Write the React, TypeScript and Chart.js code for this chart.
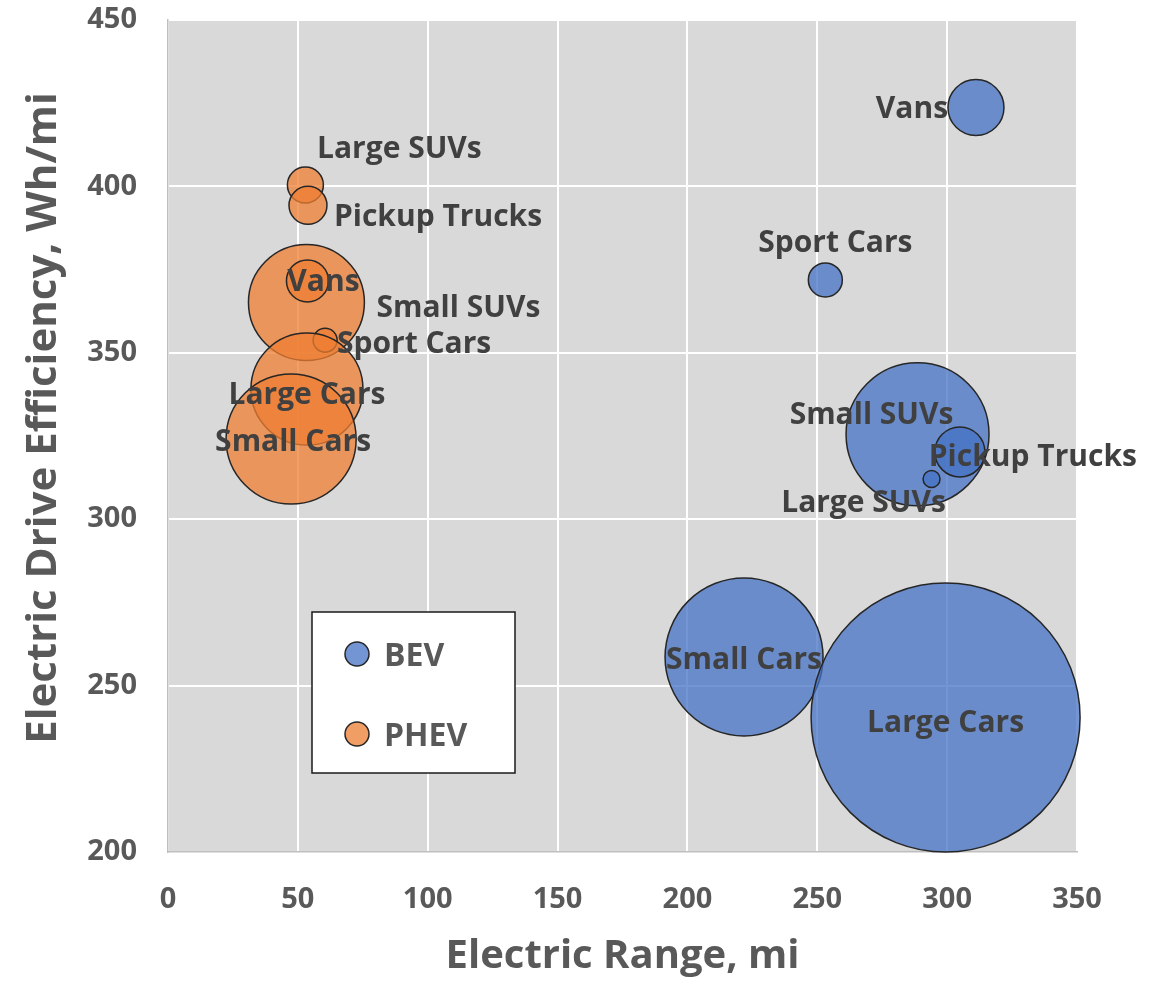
import React, { useEffect, useRef } from "react";
import { Chart, registerables } from "chart.js";

Chart.register(...registerables);

// ---- Data ----
const bevCategories = ["Vans", "Sport Cars", "Small SUVs", "Pickup Trucks", "Large SUVs", "Small Cars", "Large Cars"];
const bevRange = [311.1, 253.1, 288.6, 304.9, 294.0, 221.8, 299.4];
const bevEfficiency = [423.7, 371.9, 325.5, 320.2, 312.1, 258.6, 240.4];
const bevSize = [7.84, 2.89, 51.1, 6.25, 0.72, 62.4, 180.9];

const phevCategories = ["Large SUVs", "Pickup Trucks", "Small SUVs", "Vans", "Sport Cars", "Large Cars", "Small Cars"];
const phevRange = [52.9, 53.9, 53.3, 53.7, 60.5, 53.5, 47.4];
const phevEfficiency = [400.4, 394.3, 365.1, 371.6, 353.8, 339.1, 324.1];
const phevSize = [3.24, 3.61, 33.6, 4.41, 1.44, 31.4, 42.3];

const seriesNames = ["BEV", "PHEV"];
const xTitle = "Electric Range, mi";
const yTitle = "Electric Drive Efficiency, Wh/mi";

// ---- Layout / style (pixel offsets of the data labels from their bubble centres) ----
const bevLabelOffsets = [[-64, -1], [10, -39], [-46, -21], [73, 3], [-68, 22], [0, 1], [0, 3]];
const phevLabelOffsets = [[94, -38], [130, 10], [152, 3], [16, -1], [89, 2], [0, 4], [2, 1]];

const FONT = "'Open Sans', 'DejaVu Sans', sans-serif";
const bubbleScale = 10; // radius = bubbleScale * sqrt(size)

const bgPlugin = {
  id: "plotBg",
  beforeDraw(chart: any) {
    const { ctx, chartArea } = chart;
    ctx.save();
    ctx.fillStyle = "#d9d9d9";
    ctx.fillRect(chartArea.left, chartArea.top, chartArea.right - chartArea.left, chartArea.bottom - chartArea.top);
    ctx.restore();
  },
};

const yTitlePlugin = {
  id: "yTitle",
  afterDraw(chart: any) {
    const { ctx, chartArea } = chart;
    ctx.save();
    ctx.translate(44, chartArea.top + 398);
    ctx.rotate(-Math.PI / 2);
    ctx.font = `bold 42px ${FONT}`;
    ctx.fillStyle = "#595959";
    ctx.textAlign = "center";
    ctx.textBaseline = "middle";
    ctx.fillText(yTitle, 0, 0);
    ctx.restore();
  },
};

const labelPlugin = {
  id: "bubbleLabels",
  afterDatasetsDraw(chart: any) {
    const ctx = chart.ctx;
    ctx.save();
    ctx.font = `bold 30px ${FONT}`;
    ctx.fillStyle = "#404040";
    ctx.textAlign = "center";
    ctx.textBaseline = "alphabetic";
    chart.data.datasets.forEach((_ds: any, di: number) => {
      const meta = chart.getDatasetMeta(di);
      const names = di === 0 ? bevCategories : phevCategories;
      const offs = di === 0 ? bevLabelOffsets : phevLabelOffsets;
      meta.data.forEach((el: any, i: number) => {
        ctx.fillText(names[i], el.x + offs[i][0], el.y + offs[i][1] + 11);
      });
    });
    ctx.restore();
  },
};

const legendPlugin = {
  id: "boxLegend",
  afterDraw(chart: any) {
    const { ctx, chartArea } = chart;
    const left = chartArea.left + 144;
    const top = chartArea.top + 592;
    const w = 203;
    const h = 161;
    ctx.save();
    ctx.fillStyle = "#ffffff";
    ctx.fillRect(left, top, w, h);
    ctx.strokeStyle = "#1a1a1a";
    ctx.lineWidth = 1.5;
    ctx.strokeRect(left, top, w, h);
    const fills = ["rgb(115,149,211)", "rgb(241,158,101)"];
    seriesNames.forEach((name, i) => {
      const cy = top + 42 + i * 80;
      const cx = left + 45;
      ctx.beginPath();
      ctx.arc(cx, cy, 12, 0, Math.PI * 2);
      ctx.fillStyle = fills[i];
      ctx.fill();
      ctx.lineWidth = 1.5;
      ctx.strokeStyle = "#262626";
      ctx.stroke();
      ctx.font = `bold 32px ${FONT}`;
      ctx.fillStyle = "#595959";
      ctx.textAlign = "left";
      ctx.textBaseline = "alphabetic";
      ctx.fillText(name, left + 72, cy + 12);
    });
    ctx.restore();
  },
};

export default function App() {
  const canvasRef = useRef<HTMLCanvasElement | null>(null);

  useEffect(() => {
    if (!canvasRef.current) return;
    const toPoints = (xs: number[], ys: number[], ss: number[]) =>
      xs.map((x, i) => ({ x, y: ys[i], r: bubbleScale * Math.sqrt(ss[i]) }));

    const chart = new Chart(canvasRef.current, {
      type: "bubble",
      data: {
        datasets: [
          {
            label: seriesNames[0],
            data: toPoints(bevRange, bevEfficiency, bevSize),
            backgroundColor: "rgba(68,114,196,0.75)",
            borderColor: "#262626",
            borderWidth: 1.5,
            clip: false as any,
          },
          {
            label: seriesNames[1],
            data: toPoints(phevRange, phevEfficiency, phevSize),
            backgroundColor: "rgba(237,125,49,0.75)",
            borderColor: "#262626",
            borderWidth: 1.5,
            clip: false as any,
          },
        ],
      },
      options: {
        responsive: false,
        animation: false,
        layout: { autoPadding: false, padding: { top: 20, right: 73, bottom: 0, left: 0 } },
        plugins: {
          legend: { display: false },
          tooltip: { enabled: false },
        },
        scales: {
          x: {
            type: "linear",
            min: 0,
            max: 350,
            ticks: {
              stepSize: 50,
              font: { family: FONT, size: 29, weight: "bold" },
              color: "#595959",
              padding: 30,
            },
            grid: { color: "#ffffff", lineWidth: 2, drawTicks: false },
            border: { color: "#bfbfbf", width: 1.5 },
            title: {
              display: true,
              text: xTitle,
              font: { family: FONT, size: 40, weight: "bold" },
              color: "#595959",
              padding: { top: 0, bottom: 2 },
            },
            afterFit: (scale: any) => {
              scale.height = 131;
              scale.paddingLeft = 0;
              scale.paddingRight = 0;
            },
          },
          y: {
            type: "linear",
            min: 200,
            max: 450,
            ticks: {
              stepSize: 50,
              font: { family: FONT, size: 29, weight: "bold" },
              color: "#595959",
              padding: 31,
            },
            grid: { color: "#ffffff", lineWidth: 2, drawTicks: false },
            border: { color: "#bfbfbf", width: 1.5 },
            title: { display: false },
            afterFit: (scale: any) => {
              scale.width = 168;
              scale.paddingTop = 0;
              scale.paddingBottom = 0;
            },
          },
        },
      },
      plugins: [bgPlugin, labelPlugin, legendPlugin, yTitlePlugin],
    });

    return () => chart.destroy();
  }, []);

  return (
    <div style={{ position: "absolute", left: 0, top: 0, width: 1150, height: 983, background: "#ffffff" }}>
      <canvas ref={canvasRef} width={1150} height={983} style={{ width: 1150, height: 983, display: "block" }} />
    </div>
  );
}
